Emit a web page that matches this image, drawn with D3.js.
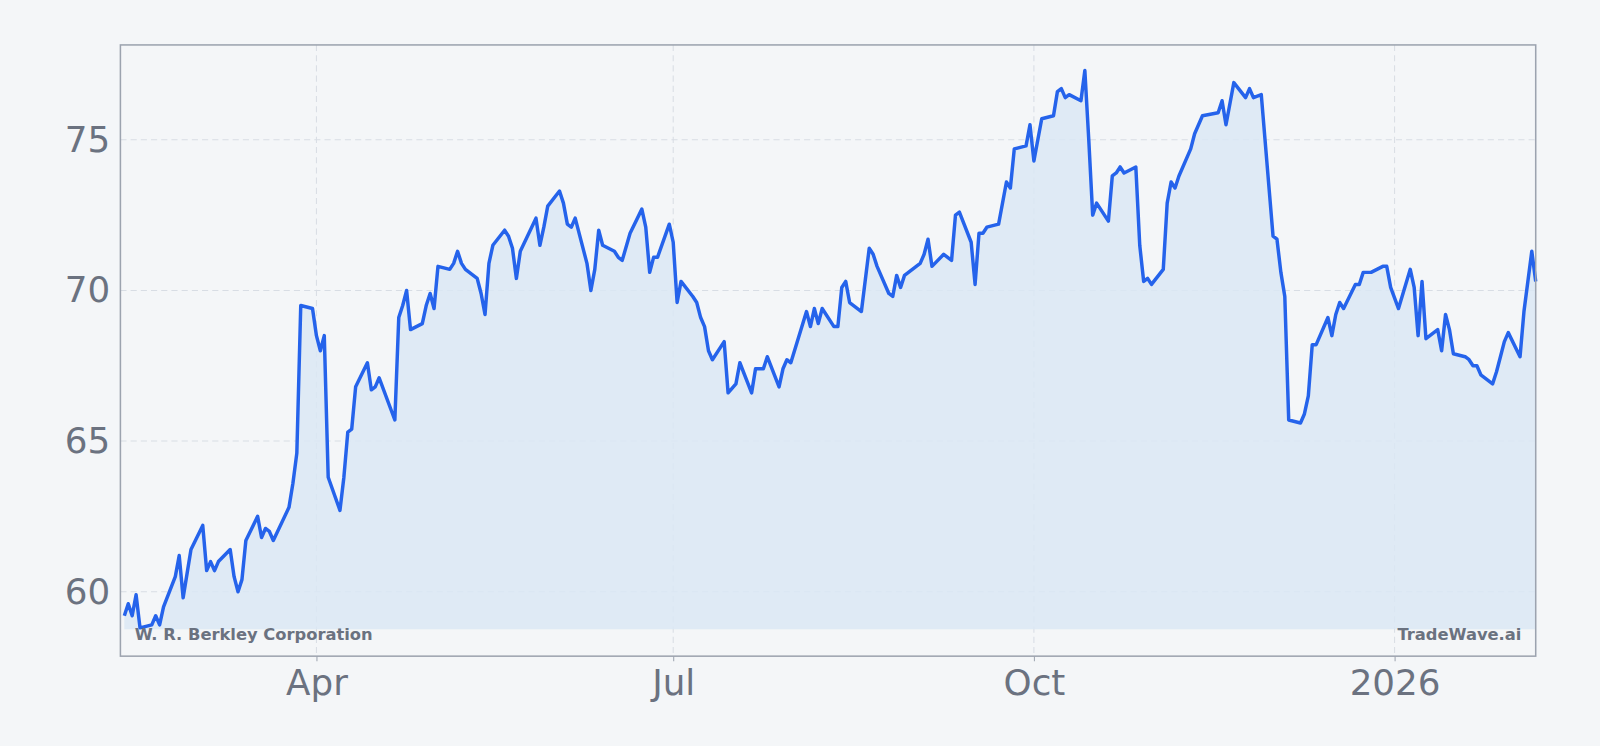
<!DOCTYPE html>
<html><head><meta charset="utf-8">
<script src="https://cdn.jsdelivr.net/npm/d3@7"></script>
<style>body{margin:0;background:#f4f6f8;font-family:"DejaVu Sans",sans-serif}</style>
</head><body><svg id="c" width="1600" height="746" viewBox="0 0 1568 731"></svg>
<script>
const startDate = "2025-02-10";
const days = [1,2,3,4,5,8,9,10,11,14,15,16,17,18,21,22,23,24,25,28,29,30,31,32,35,36,37,38,39,43,44,45,46,49,50,51,52,53,56,57,58,59,60,63,64,65,66,70,71,72,73,74,77,78,79,80,81,84,85,86,87,88,91,92,93,94,95,98,99,100,101,102,106,107,108,109,112,113,114,115,116,119,120,121,122,123,126,127,128,130,133,134,135,136,137,140,141,142,143,146,147,148,149,150,151,154,155,157,158,161,162,164,165,168,169,170,171,175,176,177,178,179,182,183,184,185,186,189,191,192,193,196,197,198,199,200,203,204,205,206,207,210,211,212,213,214,217,218,219,220,221,224,226,227,228,231,232,233,235,238,239,240,241,242,245,246,247,248,249,252,253,254,255,256,259,260,261,262,263,266,267,268,269,270,273,274,276,280,281,282,284,287,288,289,291,294,295,296,297,298,301,302,303,304,305,308,309,310,311,312,315,316,317,319,322,323,324,326,329,330,331,332,333,336,337,338,339,340,343,344,345,346,347,350,351,352,353,354,357,358,360,361];
const prices = [59.2,59.6,59.2,59.9,58.8,58.9,59.2,58.9,59.5,60.5,61.2,59.8,60.6,61.4,62.2,60.7,61.0,60.7,61.0,61.4,60.5,60.0,60.4,61.7,62.5,61.8,62.1,62.0,61.7,62.8,63.6,64.6,69.5,69.4,68.5,68.0,68.5,63.8,62.7,63.8,65.3,65.4,66.8,67.6,66.7,66.8,67.1,65.7,69.1,69.5,70.0,68.7,68.9,69.5,69.9,69.4,70.8,70.7,70.9,71.3,70.9,70.7,70.4,69.9,69.2,70.9,71.5,72.0,71.8,71.4,70.4,71.3,72.4,71.5,72.1,72.8,73.3,72.9,72.2,72.1,72.4,70.9,70.0,70.7,72.0,71.5,71.3,71.1,71.0,71.9,72.7,72.1,70.6,71.1,71.1,72.2,71.6,69.6,70.3,69.8,69.6,69.1,68.8,68.0,67.7,68.3,66.6,66.9,67.6,66.6,67.4,67.4,67.8,66.8,67.4,67.7,67.6,69.3,68.8,69.4,68.9,69.4,68.8,68.8,70.1,70.3,69.6,69.3,71.4,71.2,70.8,69.9,69.8,70.5,70.1,70.5,70.8,70.9,71.2,71.7,70.8,71.2,71.1,71.0,72.5,72.6,71.6,70.2,71.9,71.9,72.1,72.2,73.6,73.4,74.7,74.8,75.5,74.3,75.7,75.8,76.6,76.7,76.4,76.5,76.3,77.3,75.0,72.5,72.9,72.3,73.8,73.9,74.1,73.9,74.1,71.5,70.3,70.4,70.2,70.7,72.9,73.6,73.4,73.8,74.7,75.2,75.8,75.9,76.3,75.5,76.9,76.4,76.7,76.4,76.5,71.8,71.7,70.6,69.8,65.7,65.6,65.9,66.5,68.2,68.2,69.1,68.5,69.2,69.6,69.4,70.2,70.2,70.6,70.6,70.8,70.8,70.1,69.4,70.7,70.1,68.5,70.3,68.4,68.7,68.0,69.2,68.7,67.9,67.8,67.7,67.5,67.5,67.2,66.9,67.3,67.8,68.3,68.6,67.8,69.3,71.3,70.3];
const yTicks = [60,65,70,75];
const company = "W. R. Berkley Corporation";
const brand = "TradeWave.ai";

const parse = d3.timeParse("%Y-%m-%d");
const t0 = parse(startDate);
const data = days.map((d,i)=>({date:d3.timeDay.offset(t0,d), v:prices[i]}));
const L=118,R=1505,T=44,B=643;
const svg=d3.select("#c");
svg.append("rect").attr("width",1568).attr("height",731).attr("fill","#f4f6f8");
const x=d3.scaleTime().domain([d3.timeDay.offset(t0,0.6),d3.timeDay.offset(t0,days[days.length-1])]).range([L,R]);
const y=d3.scaleLinear().domain([57.86,78.15]).range([B,T]);
const grey="#6b7280";
const xTicks=[parse("2025-04-01"),parse("2025-07-01"),parse("2025-10-01"),parse("2026-01-01")];
const fmt=d=>d.getMonth()===0?d3.timeFormat("%Y")(d):d3.timeFormat("%b")(d);
const g=svg.append("g");
g.selectAll(".hg").data(yTicks).join("line").attr("x1",L).attr("x2",R).attr("y1",d=>y(d)).attr("y2",d=>y(d)).attr("stroke","#d8dde4").attr("stroke-dasharray","6,4");
g.selectAll(".vg").data(xTicks).join("line").attr("y1",T).attr("y2",B).attr("x1",d=>x(d)).attr("x2",d=>x(d)).attr("stroke","#d8dde4").attr("stroke-dasharray","6,4");
const base=58.75;
svg.append("path").datum(data).attr("fill","#dbe8f5").attr("opacity",0.85)
 .attr("d",d3.area().x(d=>x(d.date)).y0(y(base)).y1(d=>y(d.v)));
svg.append("path").datum(data).attr("fill","none").attr("stroke","#2563eb").attr("stroke-width",3.4).attr("stroke-linejoin","round")
 .attr("d",d3.line().x(d=>x(d.date)).y(d=>y(d.v)));
svg.append("rect").attr("x",L).attr("y",T).attr("width",R-L).attr("height",B-T).attr("fill","none").attr("stroke","#9ca3af").attr("stroke-width",1.5);
const ya=svg.append("g").attr("transform",`translate(${L},0)`).call(d3.axisLeft(y).tickValues(yTicks).tickSize(0).tickPadding(10));
const xa=svg.append("g").attr("transform",`translate(0,${B})`).call(d3.axisBottom(x).tickValues(xTicks).tickFormat(fmt).tickSize(5).tickPadding(8));
[ya,xa].forEach(a=>{a.select(".domain").remove();a.selectAll("text").attr("fill",grey).attr("font-size",35).attr("font-family","DejaVu Sans");a.selectAll("line").attr("stroke","#9ca3af");});
svg.append("text").attr("x",132).attr("y",627).text(company).attr("fill",grey).attr("font-size",16).attr("font-weight","bold");
svg.append("text").attr("x",1491).attr("y",627).attr("text-anchor","end").text(brand).attr("fill",grey).attr("font-size",16).attr("font-weight","bold");
</script></body></html>
